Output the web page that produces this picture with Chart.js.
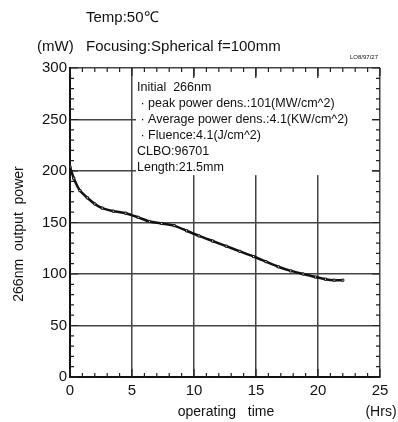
<!DOCTYPE html>
<html>
<head>
<meta charset="utf-8">
<script src="https://cdn.jsdelivr.net/npm/chart.js@4"></script>
<style>
  html, body { margin: 0; padding: 0; background: #fff; }
  #wrap { width: 398px; height: 422px; }
</style>
</head>
<body>
<div id="wrap"><canvas id="power-chart" width="398" height="422"></canvas></div>
<script>
// operating time (Hrs) and 266nm output power (mW)
const hours = [0, 0.3, 0.8, 1.4, 2.0, 2.6, 3.5, 4.5, 5.5, 6.4, 7.4, 8.4, 9.4, 10.4, 11.5, 12.6, 13.7, 14.8, 15.8, 16.8, 17.8, 18.8, 19.8, 20.6, 21.3, 22];
const power = [204, 193, 181, 174, 168, 164, 161, 159, 155, 151, 149, 147, 142, 137, 132, 127, 122, 117, 112, 107, 103, 100, 97, 95, 94, 94];

const xTicks = [0, 5, 10, 15, 20, 25];
const yTicks = [0, 50, 100, 150, 200, 250, 300];

const noteLines = [
  "Initial  266nm",
  " · peak power dens.:101(MW/cm^2)",
  " · Average power dens.:4.1(KW/cm^2)",
  " · Fluence:4.1(J/cm^2)",
  "CLBO:96701",
  "Length:21.5mm",
];

const FONT = "'Liberation Sans', Arial, sans-serif";

const decorPlugin = {
  id: "decor",
  beforeDatasetsDraw(chart) {
    const { ctx, chartArea: a, scales } = chart;
    const x = scales.x, y = scales.y;
    ctx.save();
    // minor ticks on all four sides
    ctx.strokeStyle = "#222";
    ctx.lineWidth = 1.2;
    ctx.beginPath();
    for (let t = 0; t <= 25; t++) {
      const px = x.getPixelForValue(t);
      const len = t % 5 === 0 ? 8 : 4;
      ctx.moveTo(px, a.bottom); ctx.lineTo(px, a.bottom - len);
      ctx.moveTo(px, a.top); ctx.lineTo(px, a.top + len);
    }
    for (let v = 0; v <= 300; v += 10) {
      const py = y.getPixelForValue(v);
      const len = v % 50 === 0 ? 8 : 4;
      ctx.moveTo(a.left, py); ctx.lineTo(a.left + len, py);
      ctx.moveTo(a.right, py); ctx.lineTo(a.right - len, py);
    }
    ctx.stroke();

    // annotation box hides the grid behind it
    const bx = x.getPixelForValue(5) + 4;
    const by = a.top + 10;
    const bw = a.right - 8 - bx;
    const bh = y.getPixelForValue(196) - by;
    ctx.fillStyle = "#fff";
    ctx.fillRect(bx, by, bw, bh);

    ctx.fillStyle = "#111";
    ctx.font = "12.5px " + FONT;
    ctx.textBaseline = "middle";
    ctx.textAlign = "left";
    noteLines.forEach((s, i) => ctx.fillText(s, bx + 1, a.top + 20 + i * 16));
    ctx.restore();
  },
  afterDraw(chart) {
    const { ctx } = chart;
    ctx.save();
    ctx.fillStyle = "#111";
    ctx.textBaseline = "middle";
    ctx.font = "15px " + FONT;
    ctx.textAlign = "left";
    ctx.fillText("Temp:50\u2103", 86, 18);
    ctx.fillText("(mW)", 37, 47);
    ctx.fillText("Focusing:Spherical f=100mm", 86, 47);
    ctx.font = "14px " + FONT;
    ctx.textAlign = "center";
    ctx.fillText("operating   time", 226, 412);
    ctx.fillText("(Hrs)", 381, 412);
    ctx.font = "6px " + FONT;
    ctx.fillText("LO8/97/27", 364, 57);
    ctx.translate(19, 234);
    ctx.rotate(-Math.PI / 2);
    ctx.font = "14px " + FONT;
    ctx.fillText("266nm  output  power", 0, 0);
    ctx.restore();
  },
};

new Chart(document.getElementById("power-chart"), {
  type: "scatter",
  data: {
    datasets: [{
      data: hours.map((h, i) => ({ x: h, y: power[i] })),
      showLine: true,
      borderColor: "#111",
      borderWidth: 2.5,
      tension: 0.2,
      pointStyle: "rect",
      pointRadius: 1.5,
      pointBackgroundColor: "#fff",
      pointBorderColor: "#111",
      pointBorderWidth: 1,
    }],
  },
  options: {
    responsive: false,
    animation: false,
    layout: { padding: { top: 68, right: 18, left: 0, bottom: 0 } },
    plugins: { legend: { display: false }, tooltip: { enabled: false } },
    scales: {
      x: {
        type: "linear",
        min: 0,
        max: 25,
        afterBuildTicks: (s) => { s.ticks = xTicks.map((v) => ({ value: v })); },
        afterFit: (s) => { s.height = 45; },
        ticks: { color: "#111", font: { size: 15, family: FONT }, padding: 5, maxRotation: 0 },
        grid: { color: "#444", lineWidth: 1.5, drawTicks: false },
        border: { color: "#111", width: 2 },
      },
      y: {
        min: 0,
        max: 300,
        afterBuildTicks: (s) => { s.ticks = yTicks.map((v) => ({ value: v })); },
        afterFit: (s) => { s.width = 70; },
        ticks: { color: "#111", font: { size: 15, family: FONT }, padding: 3 },
        grid: { color: "#444", lineWidth: 1.5, drawTicks: false },
        border: { color: "#111", width: 2 },
      },
    },
  },
  plugins: [decorPlugin],
});
</script>
</body>
</html>
